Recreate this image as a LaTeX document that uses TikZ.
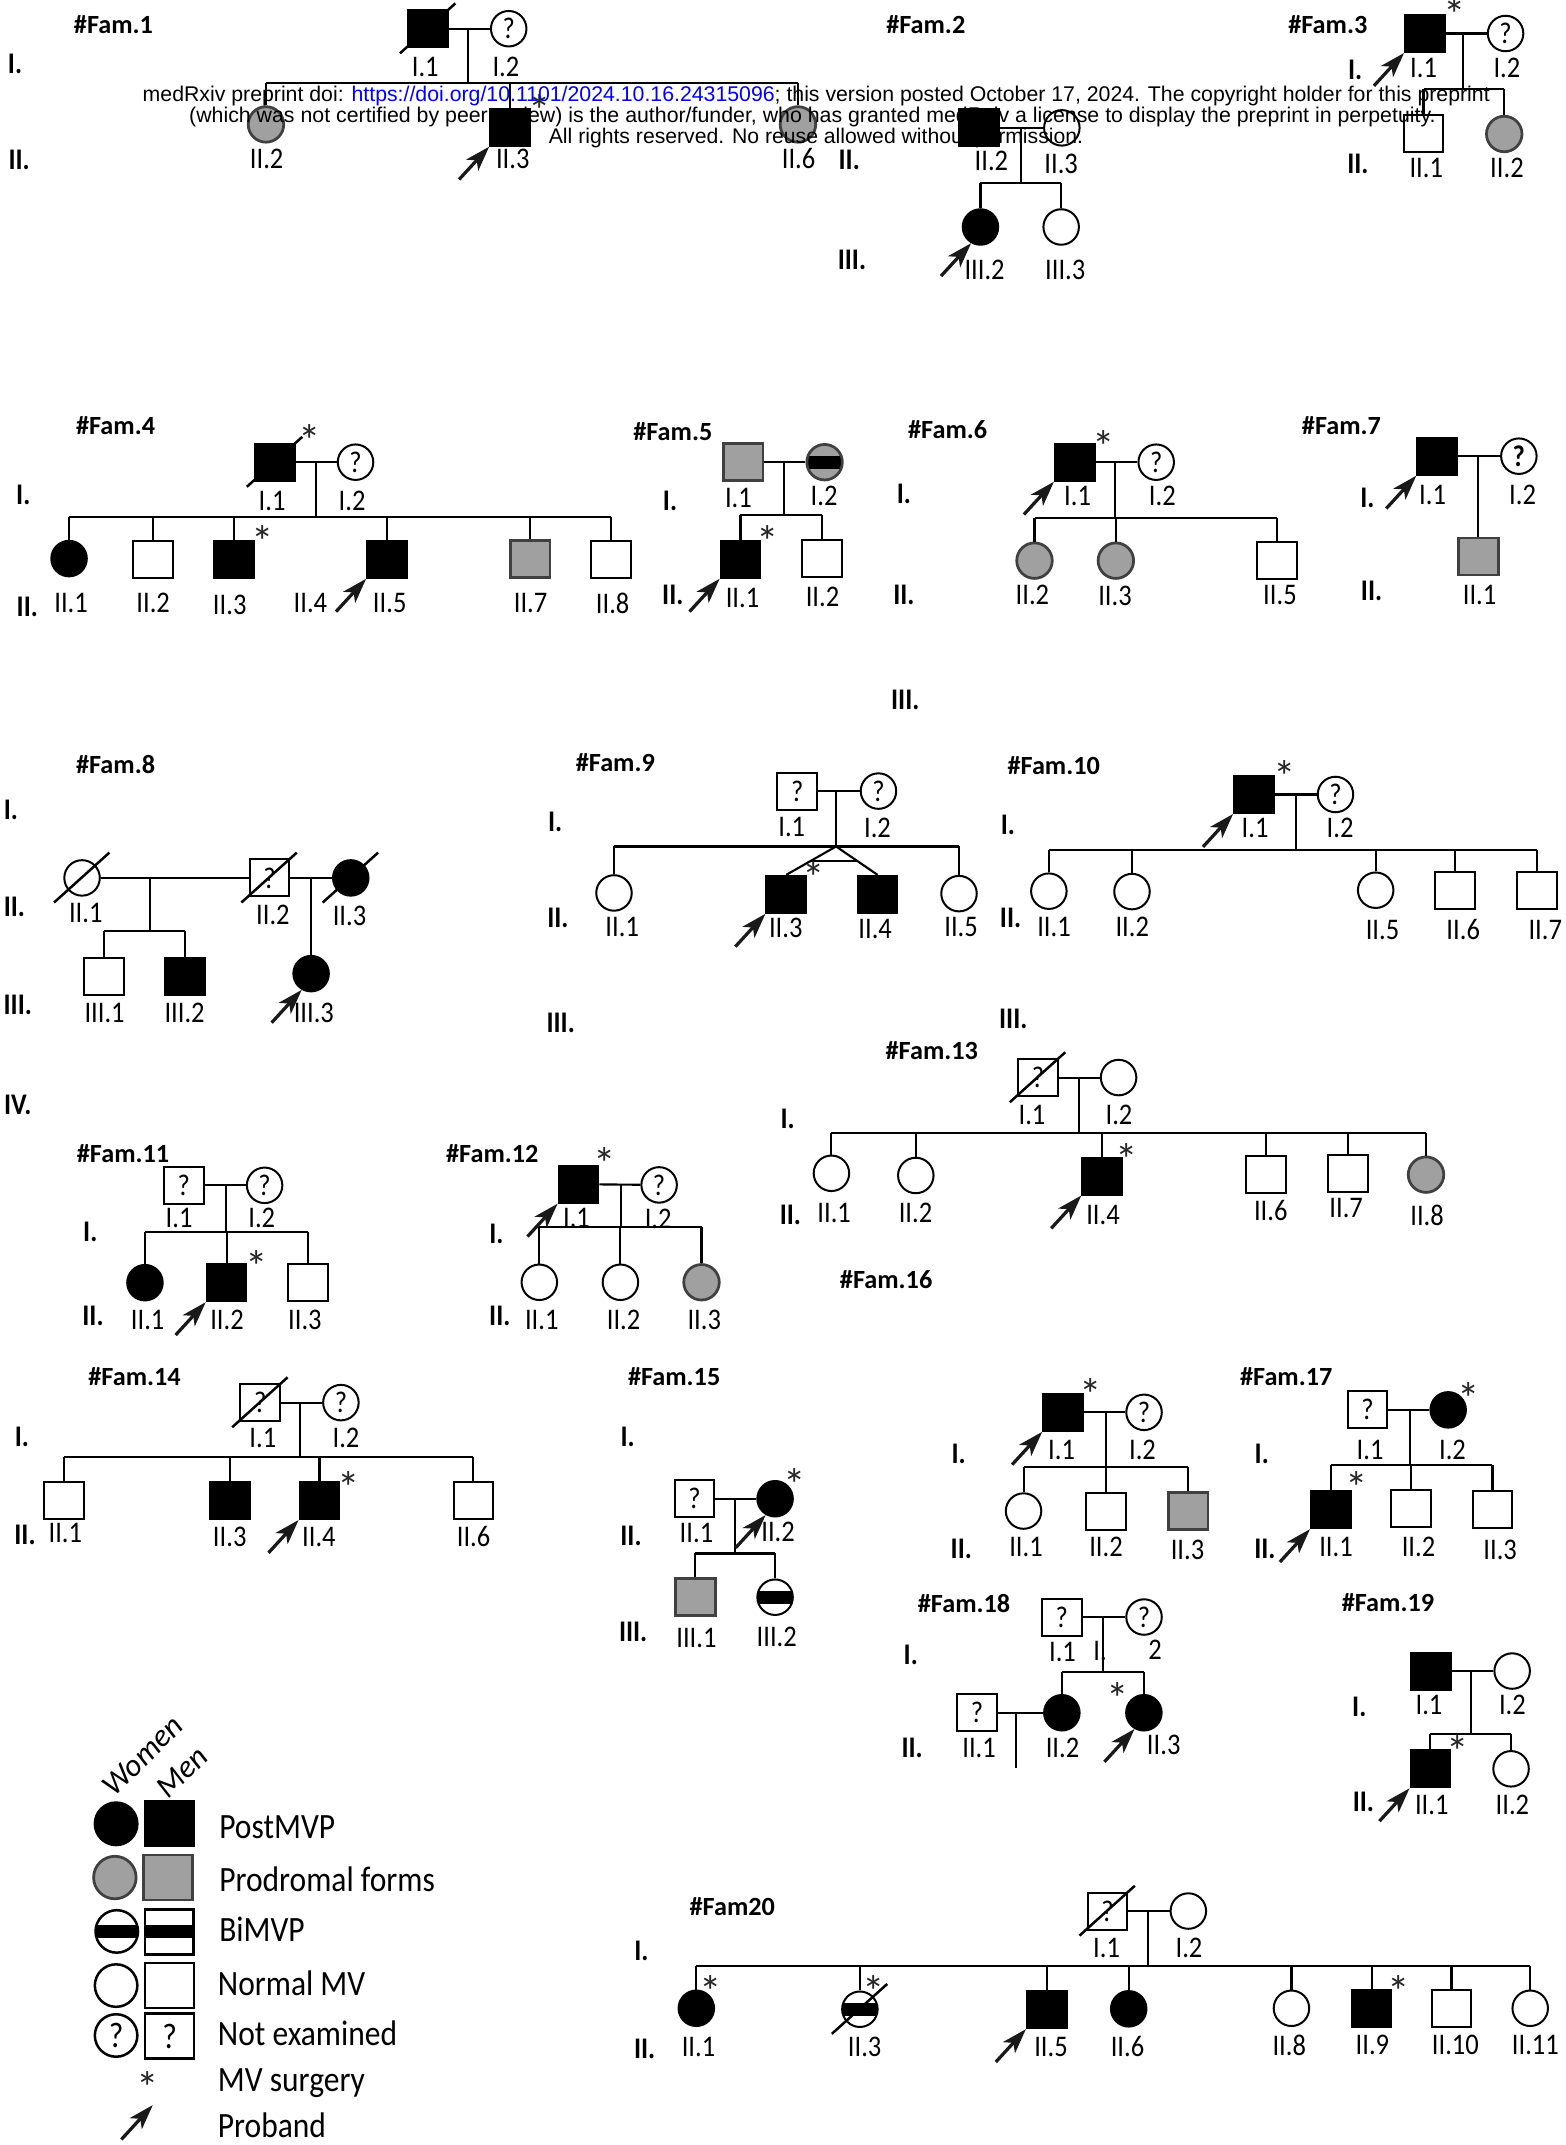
\documentclass[tikz,border=0pt]{standalone}
\usepackage{fontspec}
\setmainfont{Carlito}
\newfontfamily\wmfont{Liberation Sans}
\usetikzlibrary{arrows.meta,calc}
\definecolor{progrey}{RGB}{160,160,160}
\newcommand\vs[1]{\scalebox{1}[1.13]{#1}}
\newcommand\lblfont{\fontsize{10.6}{12}\selectfont}
\newcommand\genfont{\fontsize{10.6}{12}\selectfont\bfseries}
\newcommand\famfont{\fontsize{10.5}{12}\selectfont\bfseries}
\newcommand\legfont{\fontsize{12.6}{14}\selectfont}
\newcommand\astfont{\fontsize{18}{19}\selectfont}
\newcommand\plab[3]{\node[lbl] (#1) at (#2) {\vs{#3}};}
\newcommand\pgen[3]{\node[gen] (#1) at (#2) {\vs{#3}};}
\newcommand\pfam[3]{\node[fam] (#1) at (#2) {#3};}
\newcommand\past[2]{\node[ast, yshift=-3.2pt] (#1) at (#2) {*};}
\newcommand\dead[1]{\draw[dec] ([shift={(-20.5,18)}]#1.center) -- ([shift={(20,-18.5)}]#1.center);}
\newcommand\kid[2]{\draw[ln] (#1.north) -- (#1.north |- #2);}
\newcommand\sib[3]{\draw[ln] (#1.north |- #3) -- (#2.north |- #3);}
\newcommand\probsq[1]{\draw[proband] ([shift={(-22,24)}]#1.south west) -- (#1.south west);}
\newcommand\probci[1]{\draw[proband] ([shift={(-22,24)}]#1.-120) -- (#1.-120);}
\tikzset{
 ind/.style={draw=black, line width=0.8pt, inner sep=0pt, fill=white, font=\lblfont},
 ma/.style={ind, rectangle, minimum width=15.9pt, minimum height=14.8pt},
 fe/.style={ind, circle, minimum size=14.2pt},
 aff/.style={fill=black},
 pro/.style={fill=progrey, draw=black!75, line width=1.1pt},
 bim/.style={path picture={\fill[black] ([yshift=2.6pt]path picture bounding box.west) rectangle ([yshift=-2.6pt]path picture bounding box.east);}},
 lbl/.style={inner sep=0pt, font=\lblfont},
 gen/.style={inner sep=0pt, font=\genfont},
 fam/.style={inner sep=0pt, font=\famfont},
 ast/.style={inner sep=0pt, font=\astfont, text=black!85},
 ln/.style={line width=0.85pt},
 dec/.style={line width=1pt},
 proband/.style={line width=1.3pt, draw=black!90, -{Stealth[length=10pt, width=6.5pt, inset=2.6pt]}},
 legc/.style={ind, circle, minimum size=17pt, line width=1pt},
 legs/.style={ind, rectangle, minimum width=19.5pt, minimum height=18pt, line width=1pt},
 legt/.style={inner sep=0pt, font=\legfont, anchor=base west},
}
\begin{document}
\begin{tikzpicture}[x=0.547pt, y=-0.547pt]
\fill[white] (0,0) rectangle (1144.5,1568.6);
\useasboundingbox (0,0) rectangle (1144.5,1568.6);

% ================= Fam.1
\pfam{t1}{83,18}{\#Fam.1}
\pgen{g1a}{11,47}{I.}
\pgen{g1b}{14,117}{II.}
\node[ma,aff] (f1a) at (313,21) {};
\node[fe] (f1b) at (372,21) {\vs{?}};
\node[fe,pro] (f1c) at (194.5,91) {};
\node[ma,aff] (f1d) at (373,93) {};
\node[fe,pro] (f1e) at (583.5,91) {};
\dead{f1a}
\draw[ln] (f1a) -- (f1b);
\coordinate (f1m) at (342,21); \coordinate (f1s) at (342,60.5);
\draw[ln] (f1m) -- (f1s);
\sib{f1c}{f1e}{f1s}
\kid{f1c}{f1s}\kid{f1d}{f1s}\kid{f1e}{f1s}
\past{a1}{395,75}
\probsq{f1d}
\plab{l1a}{311,49}{I.1}\plab{l1b}{370,49}{I.2}
\plab{l1c}{195,116}{II.2}\plab{l1d}{375,116}{II.3}\plab{l1e}{584,116}{II.6}

% ================= Fam.2
\pfam{t2}{677,18}{\#Fam.2}
\pgen{g2b}{621,117}{II.}
\pgen{g2c}{623,190}{III.}
\node[ma,aff] (f2a) at (716,93.5) {};
\node[fe] (f2b) at (776.5,93.5) {};
\node[fe,aff] (f2c) at (717,166) {};
\node[fe] (f2d) at (776,166) {};
\draw[ln] (f2a) -- (f2b);
\coordinate (f2m) at (746.6,93.5); \coordinate (f2s) at (746.6,133.6);
\draw[ln] (f2m) -- (f2s);
\sib{f2c}{f2d}{f2s}
\kid{f2c}{f2s}\kid{f2d}{f2s}
\probci{f2c}
\plab{l2a}{725,118}{II.2}\plab{l2b}{776,119.5}{II.3}
\plab{l2c}{720,197.5}{III.2}\plab{l2d}{779,197.5}{III.3}

% ================= Fam.3
\pfam{t3}{971,18}{\#Fam.3}
\pgen{g3a}{991,51}{I.}
\pgen{g3b}{993,120}{II.}
\node[ma,aff] (f3a) at (1042,24.5) {};
\node[fe] (f3b) at (1101,24.5) {\vs{?}};
\node[ma] (f3c) at (1041,97.5) {};
\node[fe,pro] (f3d) at (1100,98) {};
\draw[ln] (f3a) -- (f3b);
\coordinate (f3m) at (1070,24.5); \coordinate (f3s) at (1070,65);
\draw[ln] (f3m) -- (f3s);
\sib{f3c}{f3d}{f3s}
\kid{f3c}{f3s}\kid{f3d}{f3s}
\past{a3}{1064,5}
\probsq{f3a}
\plab{l3a}{1041,50}{I.1}\plab{l3b}{1102,50}{I.2}
\plab{l3c}{1043,123}{II.1}\plab{l3d}{1102,123}{II.2}

% ================= Fam.4
\pfam{t4}{84.5,311}{\#Fam.4}
\pgen{g4a}{17,362}{I.}
\pgen{g4b}{20,444}{II.}
\node[ma,aff] (f4a) at (201,338) {};
\node[fe] (f4b) at (260,338) {\vs{?}};
\node[fe,aff] (f4c) at (50.5,408.5) {};
\node[ma] (f4d) at (112,409.5) {};
\node[ma,aff] (f4e) at (171,409) {};
\node[ma,aff] (f4f) at (283,409) {};
\node[ma,pro] (f4g) at (387.7,409) {};
\node[ma] (f4h) at (447,409) {};
\dead{f4a}
\draw[ln] (f4a) -- (f4b);
\coordinate (f4m) at (231,338); \coordinate (f4s) at (231,378);
\draw[ln] (f4m) -- (f4s);
\sib{f4c}{f4h}{f4s}
\kid{f4c}{f4s}\kid{f4d}{f4s}\kid{f4e}{f4s}\kid{f4f}{f4s}\kid{f4g}{f4s}\kid{f4h}{f4s}
\past{a4a}{226.5,316}
\past{a4b}{192,390.5}
\probsq{f4f}
\plab{l4a}{199,366}{I.1}\plab{l4b}{257.5,366}{I.2}
\plab{l4c}{52,441}{II.1}\plab{l4d}{112,441}{II.2}\plab{l4e}{168,442.5}{II.3}
\plab{l4f}{227,441}{II.4}\plab{l4g}{285,441}{II.5}\plab{l4h}{388,441}{II.7}\plab{l4i}{448,441}{II.8}

% ================= Fam.5
\pfam{t5}{492,316}{\#Fam.5}
\pgen{g5a}{490,366}{I.}
\pgen{g5b}{492,435}{II.}
\node[ma,pro] (f5a) at (543.5,338) {};
\node[fe,pro,bim] (f5b) at (603,338) {};
\node[ma,aff] (f5c) at (541.5,409) {};
\node[ma] (f5d) at (601,408.5) {};
\draw[ln] (f5a) -- (f5b);
\coordinate (f5m) at (573.5,338); \coordinate (f5s) at (573.5,376.6);
\draw[ln] (f5m) -- (f5s);
\sib{f5c}{f5d}{f5s}
\kid{f5c}{f5s}\kid{f5d}{f5s}
\past{a5}{561.6,390.5}
\probsq{f5c}
\plab{l5a}{540,364}{I.1}\plab{l5b}{602.6,363}{I.2}
\plab{l5c}{543,437}{II.1}\plab{l5d}{601.5,436.6}{II.2}

% ================= Fam.6
\pfam{t6}{693,314}{\#Fam.6}
\pgen{g6a}{661,361}{I.}
\pgen{g6b}{661,435}{II.}
\pgen{g6c}{662,512}{III.}
\node[ma,aff] (f6a) at (786,338) {};
\node[fe] (f6b) at (845.5,338) {\vs{?}};
\node[fe,pro] (f6c) at (756.5,410) {};
\node[fe,pro] (f6d) at (816,410) {};
\node[ma] (f6e) at (934,410) {};
\draw[ln] (f6a) -- (f6b);
\coordinate (f6m) at (815.4,338); \coordinate (f6s) at (815.4,378.6);
\draw[ln] (f6m) -- (f6s);
\sib{f6c}{f6e}{f6s}
\kid{f6c}{f6s}\kid{f6d}{f6s}\kid{f6e}{f6s}
\past{a6}{807,320.5}
\probsq{f6a}
\plab{l6a}{788,363}{I.1}\plab{l6b}{850,363}{I.2}
\plab{l6c}{755,435}{II.2}\plab{l6d}{815.4,436}{II.3}\plab{l6e}{936,435}{II.5}

% ================= Fam.7
\pfam{t7}{981,311}{\#Fam.7}
\pgen{g7a}{1000,364}{I.}
\pgen{g7b}{1003,432}{II.}
\node[ma,aff] (f7a) at (1051,333.6) {};
\node[fe] (f7b) at (1110.7,333.6) {\vs{\bfseries ?}};
\node[ma,pro] (f7c) at (1081,407) {};
\draw[ln] (f7a) -- (f7b);
\coordinate (f7m) at (1081,333.6);
\draw[ln] (f7m) -- (f7c.north);
\probsq{f7a}
\plab{l7a}{1047.6,362}{I.1}\plab{l7b}{1113.4,362}{I.2}
\plab{l7c}{1082,435}{II.1}

% ================= Fam.8
\pfam{t8}{84.5,559}{\#Fam.8}
\pgen{g8a}{8,592}{I.}
\pgen{g8b}{10.5,663}{II.}
\pgen{g8c}{13,735}{III.}
\pgen{g8d}{13,808}{IV.}
\node[fe] (f8a) at (60,642) {};
\node[ma] (f8b) at (197,642) {\vs{?}};
\node[fe,aff] (f8c) at (256.5,642) {};
\node[ma] (f8d) at (76,714) {};
\node[ma,aff] (f8e) at (135.5,714) {};
\node[fe,aff] (f8f) at (227.5,712) {};
\dead{f8a}\dead{f8b}\dead{f8c}
\draw[ln] (f8a) -- (f8b);
\draw[ln] (f8b) -- (f8c);
\coordinate (f8m1) at (110,642); \coordinate (f8s1) at (110,681);
\draw[ln] (f8m1) -- (f8s1);
\sib{f8d}{f8e}{f8s1}
\kid{f8d}{f8s1}\kid{f8e}{f8s1}
\coordinate (f8m2) at (227.5,642);
\draw[ln] (f8m2) -- (f8f.north);
\probci{f8f}
\plab{l8a}{62.7,668}{II.1}\plab{l8b}{199.6,669}{II.2}\plab{l8c}{255.6,670}{II.3}
\plab{l8d}{76.5,740.5}{III.1}\plab{l8e}{135,740.5}{III.2}\plab{l8f}{229.5,740.5}{III.3}

% ================= Fam.9
\pfam{t9}{450,558}{\#Fam.9}
\pgen{g9a}{406,601}{I.}
\pgen{g9b}{408,671}{II.}
\pgen{g9c}{410,748}{III.}
\node[ma] (f9a) at (583,578.5) {\vs{?}};
\node[fe] (f9b) at (642.4,578.5) {\vs{?}};
\node[fe] (f9c) at (449,653) {};
\node[ma,aff] (f9d) at (575,654) {};
\node[ma,aff] (f9e) at (641.7,654) {};
\node[fe] (f9f) at (701.3,653.5) {};
\draw[ln] (f9a) -- (f9b);
\coordinate (f9m) at (611.4,578.5); \coordinate (f9s) at (611.4,619);
\draw[ln] (f9m) -- (f9s);
\sib{f9c}{f9f}{f9s}
\kid{f9c}{f9s}\kid{f9f}{f9s}
\draw[ln] (f9s) -- (f9d.north);
\draw[ln] (f9s) -- (f9e.north);
\draw[ln] ($(f9s)!0.5!(f9d.north)$) -- ($(f9s)!0.5!(f9e.north)$);
\past{a9}{595,636}
\probsq{f9d}
\plab{l9a}{579,605}{I.1}\plab{l9b}{641.7,605.6}{I.2}
\plab{l9c}{455,678}{II.1}\plab{l9d}{574.6,678.8}{II.3}\plab{l9e}{640,679.5}{II.4}\plab{l9f}{702.8,677.7}{II.5}

% ================= Fam.10
\pfam{t10}{770.6,560}{\#Fam.10}
\pgen{g10a}{737,603.5}{I.}
\pgen{g10b}{739,671}{II.}
\pgen{g10c}{741,745}{III.}
\node[ma,aff] (f10a) at (917,581) {};
\node[fe] (f10b) at (976.6,581) {\vs{?}};
\node[fe] (f10c) at (767,651.7) {};
\node[fe] (f10d) at (827.8,652) {};
\node[fe] (f10e) at (1006,651) {};
\node[ma] (f10f) at (1064,651) {};
\node[ma] (f10g) at (1124,651) {};
\draw[ln] (f10a) -- (f10b);
\coordinate (f10m) at (947.8,581); \coordinate (f10s) at (947.8,621.6);
\draw[ln] (f10m) -- (f10s);
\sib{f10c}{f10g}{f10s}
\kid{f10c}{f10s}\kid{f10d}{f10s}\kid{f10e}{f10s}\kid{f10f}{f10s}\kid{f10g}{f10s}
\past{a10}{939.7,561.8}
\probsq{f10a}
\plab{l10a}{917.8,605.6}{I.1}\plab{l10b}{980,605.6}{I.2}
\plab{l10c}{770.8,677.7}{II.1}\plab{l10d}{828,677.7}{II.2}\plab{l10e}{1011,680}{II.5}
\plab{l10f}{1070,680}{II.6}\plab{l10g}{1130,680}{II.7}

% ================= Fam.11
\pfam{t11}{90,843.5}{\#Fam.11}
\pgen{g11a}{66,901}{I.}
\pgen{g11b}{68,962}{II.}
\node[ma] (f11a) at (134.3,866.8) {\vs{?}};
\node[fe] (f11b) at (193.5,866.8) {\vs{?}};
\node[fe,aff] (f11c) at (106,938) {};
\node[ma,aff] (f11d) at (165.7,938) {};
\node[ma] (f11e) at (225.3,938) {};
\draw[ln] (f11a) -- (f11b);
\coordinate (f11m) at (165.3,866.8); \coordinate (f11s) at (165.3,900.7);
\draw[ln] (f11m) -- (f11s);
\sib{f11c}{f11e}{f11s}
\kid{f11c}{f11s}\kid{f11d}{f11s}\kid{f11e}{f11s}
\past{a11}{187.7,920}
\probsq{f11d}
\plab{l11a}{131,890.7}{I.1}\plab{l11b}{191.4,890.7}{I.2}
\plab{l11c}{108,965.4}{II.1}\plab{l11d}{166,965.4}{II.2}\plab{l11e}{223,965.4}{II.3}

% ================= Fam.12
\pfam{t12}{360,843.5}{\#Fam.12}
\pgen{g12a}{363,902}{I.}
\pgen{g12b}{365.5,962}{II.}
\node[ma,aff] (f12a) at (423,866) {};
\node[fe] (f12b) at (482,866.5) {\vs{?}};
\node[fe] (f12c) at (394.4,937.7) {};
\node[fe] (f12d) at (453.7,937.7) {};
\node[fe,pro] (f12e) at (513,937.7) {};
\draw[ln] (f12a) -- (f12b);
\coordinate (f12m) at (454,866); \coordinate (f12s) at (454,897.5);
\draw[ln] (f12m) -- (f12s);
\sib{f12c}{f12e}{f12s}
\kid{f12c}{f12s}\kid{f12d}{f12s}\kid{f12e}{f12s}
\past{a12}{442,844.7}
\probsq{f12a}
\plab{l12a}{421.6,891}{I.1}\plab{l12b}{481.3,891}{I.2}
\plab{l12c}{396.2,965.4}{II.1}\plab{l12d}{456,965.4}{II.2}\plab{l12e}{515,965.4}{II.3}

% ================= Fam.13
\pfam{t13}{681.4,768}{\#Fam.13}
\pgen{g13a}{576,818}{I.}
\pgen{g13b}{578,888.5}{II.}
\node[ma] (f13a) at (759,788) {\vs{?}};
\node[fe] (f13b) at (818,788) {};
\node[fe] (f13c) at (608,858) {};
\node[fe] (f13d) at (669.7,859.6) {};
\node[ma,aff] (f13e) at (806,860) {};
\node[ma] (f13f) at (925.8,859) {};
\node[ma] (f13g) at (985.5,858.5) {};
\node[fe,pro] (f13h) at (1042.8,859) {};
\dead{f13a}
\draw[ln] (f13a) -- (f13b);
\coordinate (f13m) at (789.3,788); \coordinate (f13s) at (789.3,828.3);
\draw[ln] (f13m) -- (f13s);
\sib{f13c}{f13h}{f13s}
\kid{f13c}{f13s}\kid{f13d}{f13s}\kid{f13e}{f13s}\kid{f13f}{f13s}\kid{f13g}{f13s}\kid{f13h}{f13s}
\past{a13}{824,842}
\probsq{f13e}
\plab{l13a}{754.7,815.4}{I.1}\plab{l13b}{818.3,815.4}{I.2}
\plab{l13c}{610,887}{II.1}\plab{l13d}{669.5,887}{II.2}\plab{l13e}{806.6,888.5}{II.4}
\plab{l13f}{929.3,885}{II.6}\plab{l13g}{984.4,883.5}{II.7}\plab{l13h}{1043.6,888.5}{II.8}

% ================= Fam.14
\pfam{t14}{98.4,1007}{\#Fam.14}
\pgen{g14a}{16,1051}{I.}
\pgen{g14b}{18.3,1122.5}{II.}
\node[ma] (f14a) at (190.3,1025.7) {\vs{?}};
\node[fe] (f14b) at (249.3,1025.7) {\vs{?}};
\node[ma] (f14c) at (47,1097.6) {};
\node[ma,aff] (f14d) at (168.3,1097.3) {};
\node[ma,aff] (f14e) at (233.6,1097.3) {};
\node[ma] (f14f) at (346.2,1097.6) {};
\dead{f14a}
\draw[ln] (f14a) -- (f14b);
\coordinate (f14m) at (219.4,1025.7); \coordinate (f14s) at (219.4,1065.7);
\draw[ln] (f14m) -- (f14s);
\sib{f14c}{f14f}{f14s}
\kid{f14c}{f14s}\kid{f14d}{f14s}\kid{f14e}{f14s}\kid{f14f}{f14s}
\past{a14}{254.8,1082.3}
\probsq{f14e}
\plab{l14a}{192.2,1051.8}{I.1}\plab{l14b}{253,1051.8}{I.2}
\plab{l14c}{47.8,1121.3}{II.1}\plab{l14d}{168,1123.8}{II.3}\plab{l14e}{233.2,1123.8}{II.4}\plab{l14f}{346.3,1123.8}{II.6}

% ================= Fam.15
\pfam{t15}{493,1007}{\#Fam.15}
\pgen{g15a}{459,1051}{I.}
\pgen{g15b}{461.4,1123}{II.}
\pgen{g15c}{463,1193}{III.}
\node[ma] (f15a) at (507.8,1096) {\vs{?}};
\node[fe,aff] (f15b) at (566.8,1096) {};
\node[ma,pro] (f15c) at (508.5,1168) {};
\node[fe,bim] (f15d) at (566.8,1168) {};
\draw[ln] (f15a) -- (f15b);
\coordinate (f15m) at (537.3,1096); \coordinate (f15s) at (537.3,1136);
\draw[ln] (f15m) -- (f15s);
\sib{f15c}{f15d}{f15s}
\kid{f15c}{f15s}\kid{f15d}{f15s}
\past{a15}{581.4,1080}
\probci{f15b}
\plab{l15a}{509.3,1121.3}{II.1}\plab{l15b}{569,1120}{II.2}
\plab{l15c}{509.3,1198}{III.1}\plab{l15d}{568,1197}{III.2}

% ================= Fam.16
\pfam{t16}{648,936}{\#Fam.16}
\pgen{g16a}{701,1063}{I.}
\pgen{g16b}{703,1132.3}{II.}
\node[ma,aff] (f16a) at (777.4,1032.8) {};
\node[fe] (f16b) at (836.6,1032.8) {\vs{?}};
\node[fe] (f16c) at (748.5,1105) {};
\node[ma] (f16d) at (809,1105) {};
\node[ma,pro] (f16e) at (868.8,1105) {};
\draw[ln] (f16a) -- (f16b);
\coordinate (f16m) at (808.8,1032.8); \coordinate (f16s) at (808.8,1072.6);
\draw[ln] (f16m) -- (f16s);
\sib{f16c}{f16e}{f16s}
\kid{f16c}{f16s}\kid{f16d}{f16s}\kid{f16e}{f16s}
\past{a16}{797.8,1014}
\probsq{f16a}
\plab{l16a}{776.3,1060.4}{I.1}\plab{l16b}{835.5,1060.4}{I.2}
\plab{l16c}{750.3,1131}{II.1}\plab{l16d}{808.8,1131}{II.2}\plab{l16e}{868.4,1133.5}{II.3}

% ================= Fam.17
\pfam{t17}{940.6,1006.7}{\#Fam.17}
\pgen{g17a}{922.7,1063}{I.}
\pgen{g17b}{925,1132.3}{II.}
\node[ma] (f17a) at (1000,1031) {\vs{?}};
\node[fe,aff] (f17b) at (1059,1031) {};
\node[ma,aff] (f17c) at (973.2,1104) {};
\node[ma] (f17d) at (1031.9,1103.3) {};
\node[ma] (f17e) at (1091.4,1103.5) {};
\draw[ln] (f17a) -- (f17b);
\coordinate (f17m) at (1031.1,1031); \coordinate (f17s) at (1031.1,1071.4);
\draw[ln] (f17m) -- (f17s);
\sib{f17c}{f17e}{f17s}
\kid{f17c}{f17s}\kid{f17d}{f17s}\kid{f17e}{f17s}
\past{a17a}{1074.3,1016.5}
\past{a17b}{992,1082.3}
\probsq{f17c}
\plab{l17a}{1001.9,1060.4}{I.1}\plab{l17b}{1062.2,1060.4}{I.2}
\plab{l17c}{977,1131}{II.1}\plab{l17d}{1037.3,1131}{II.2}\plab{l17e}{1097,1133.5}{II.3}

% ================= Fam.18
\pfam{t18}{705,1172.5}{\#Fam.18}
\pgen{g18a}{666,1210}{I.}
\pgen{g18b}{667,1278}{II.}
\node[ma] (f18a) at (776.5,1182.5) {\vs{?}};
\node[fe] (f18b) at (836.6,1182.5) {\vs{?}};
\node[ma] (f18c) at (714.5,1252.5) {\vs{?}};
\node[fe,aff] (f18d) at (776.5,1252.5) {};
\node[fe,aff] (f18e) at (836.5,1252.5) {};
\draw[ln] (f18a) -- (f18b);
\coordinate (f18m) at (806.3,1182.5); \coordinate (f18s) at (806.3,1223);
\draw[ln] (f18m) -- (f18s);
\sib{f18d}{f18e}{f18s}
\kid{f18d}{f18s}\kid{f18e}{f18s}
\draw[ln] (f18c) -- (f18d);
\coordinate (f18m2) at (743,1252.5); \coordinate (f18x) at (743,1293);
\draw[ln] (f18m2) -- (f18x);
\past{a18}{817,1236}
\probci{f18e}
\plab{l18a}{777,1207.9}{I.1}\plab{l18b}{804.4,1207}{I.}\plab{l18c}{844.7,1206.6}{2}
\plab{l18d}{716,1278}{II.1}\plab{l18e}{777,1278}{II.2}\plab{l18f}{851,1276}{II.3}

% ================= Fam.19
\pfam{t19}{1015,1172}{\#Fam.19}
\pgen{g19a}{994,1248}{I.}
\pgen{g19b}{997,1318}{II.}
\node[ma,aff] (f19a) at (1046.5,1222) {};
\node[fe] (f19b) at (1105.8,1222) {};
\node[ma,aff] (f19c) at (1046,1293.5) {};
\node[fe] (f19d) at (1105,1293.5) {};
\draw[ln] (f19a) -- (f19b);
\coordinate (f19m) at (1076,1222); \coordinate (f19s) at (1076,1268);
\draw[ln] (f19m) -- (f19s);
\sib{f19c}{f19d}{f19s}
\kid{f19c}{f19s}\kid{f19d}{f19s}
\past{a19}{1066,1275}
\probsq{f19c}
\plab{l19a}{1045,1247}{I.1}\plab{l19b}{1106,1247}{I.2}
\plab{l19c}{1047,1320}{II.1}\plab{l19d}{1106,1320}{II.2}

% ================= Fam20
\pfam{t20}{535.5,1394.4}{\#Fam20}
\pgen{g20a}{469,1426.7}{I.}
\pgen{g20b}{471.4,1498.6}{II.}
\node[ma] (f20a) at (809.9,1397.5) {\vs{?}};
\node[fe] (f20b) at (869,1397.5) {};
\node[fe,aff] (f20c) at (509.2,1468.6) {};
\node[fe,bim] (f20d) at (628.8,1469.3) {};
\node[ma,aff] (f20e) at (765.5,1469.6) {};
\node[fe,aff] (f20f) at (825.4,1469) {};
\node[fe] (f20g) at (944.4,1468.6) {};
\node[ma,aff] (f20h) at (1003,1469) {};
\node[ma] (f20i) at (1061.4,1468.5) {};
\node[fe] (f20j) at (1119,1468.6) {};
\dead{f20a}\dead{f20d}
\draw[ln] (f20a) -- (f20b);
\coordinate (f20m) at (839.3,1397.5); \coordinate (f20s) at (839.3,1437.7);
\draw[ln] (f20m) -- (f20s);
\sib{f20c}{f20j}{f20s}
\kid{f20c}{f20s}\kid{f20d}{f20s}\kid{f20e}{f20s}\kid{f20f}{f20s}\kid{f20g}{f20s}
\kid{f20h}{f20s}\kid{f20i}{f20s}\kid{f20j}{f20s}
\past{a20a}{519.8,1450.4}
\past{a20b}{639,1450.4}
\past{a20c}{1022.5,1450.4}
\probsq{f20e}
\plab{l20a}{809.2,1424.8}{I.1}\plab{l20b}{869.5,1424.8}{I.2}
\plab{l20c}{510.8,1496.7}{II.1}\plab{l20d}{632.3,1496.7}{II.3}\plab{l20e}{768.6,1496.7}{II.5}
\plab{l20f}{824.5,1496.7}{II.6}\plab{l20g}{942.8,1495.5}{II.8}\plab{l20h}{1003.6,1495.5}{II.9}
\plab{l20i}{1064.3,1495.5}{II.10}\plab{l20j}{1122.8,1495.5}{II.11}

% ================= Legend
\node[rotate=45, inner sep=0pt, font=\legfont\itshape] (lw) at (104.5,1284) {Women};
\node[rotate=45, inner sep=0pt, font=\legfont\itshape] (lm) at (133,1296) {Men};
\node[legc,aff] (lc1) at (84.9,1333.7) {};
\node[legs,aff] (ls1) at (124,1333.4) {};
\node[legc,pro] (lc2) at (84,1373) {};
\node[legs,pro] (ls2) at (123,1373) {};
\node[legc,bim] (lc3) at (85.4,1412.4) {};
\node[legs,bim] (ls3) at (123.7,1412.7) {};
\node[legc] (lc4) at (84.9,1452) {};
\node[legs] (ls4) at (124,1452) {};
\node[legc,font=\legfont] (lc5) at (84.9,1488.5) {\vs{?}};
\node[legs,font=\legfont] (ls5) at (124,1489) {\vs{?}};
\node[legt] (lt1) at (160,1344.4) {\vs{PostMVP}};
\node[legt] (lt2) at (160,1383.4) {\vs{Prodromal forms}};
\node[legt] (lt3) at (160,1420) {\vs{BiMVP}};
\node[legt] (lt4) at (159,1459) {\vs{Normal MV}};
\node[legt] (lt5) at (159,1496) {\vs{Not examined}};
\node[ast, yshift=-3.2pt] (la0) at (107.7,1521) {*};
\node[legt] (lt6) at (159,1529.6) {\vs{MV surgery}};
\coordinate (la1) at (88.8,1564.5); \coordinate (la2) at (111.7,1539.4);
\draw[proband] (la1) -- (la2);
\node[legt] (lt7) at (159,1563) {\vs{Proband}};

% ================= watermark
\node[anchor=base west, inner sep=0pt] (wm1) at (104,73.9) {\resizebox{538.8pt}{!}{\wmfont medRxiv preprint doi: \textcolor{blue}{https://doi.org/10.1101/2024.10.16.24315096}; this version posted October 17, 2024. The copyright holder for this preprint}};
\node[anchor=base west, inner sep=0pt] (wm2) at (138,89.7) {\resizebox{498.6pt}{!}{\wmfont (which was not certified by peer review) is the author/funder, who has granted medRxiv a license to display the preprint in perpetuity.}};
\node[anchor=base west, inner sep=0pt] (wm3) at (401,105.3) {\resizebox{213.7pt}{!}{\wmfont All rights reserved. No reuse allowed without permission.}};
\end{tikzpicture}
\end{document}
